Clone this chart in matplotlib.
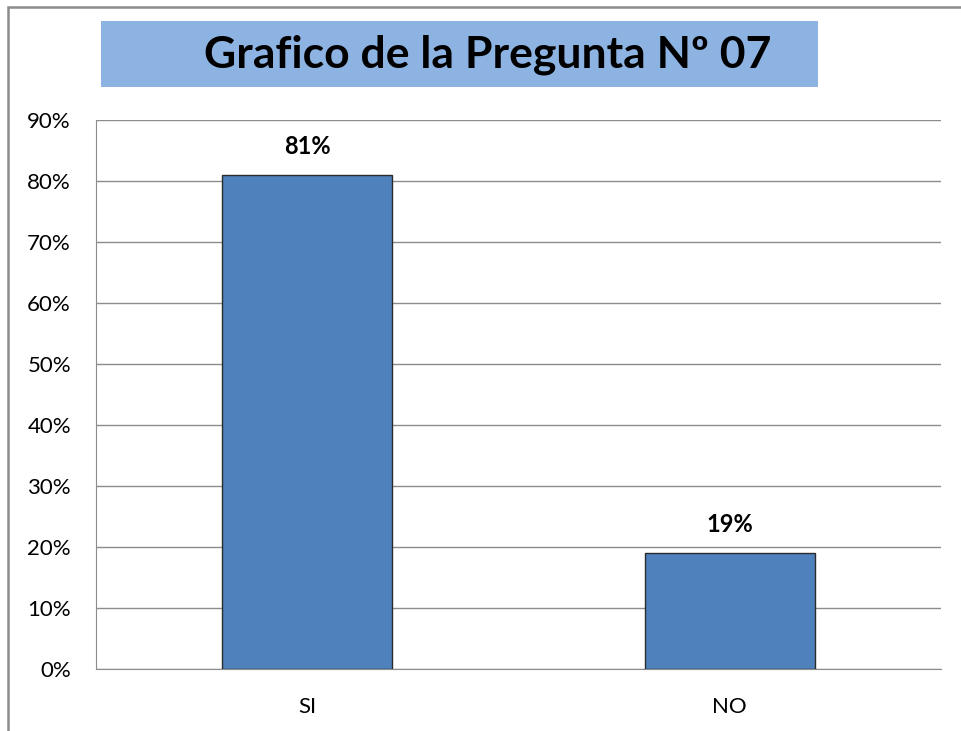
import matplotlib.pyplot as plt
from matplotlib.patches import Rectangle
from matplotlib.ticker import PercentFormatter

# Data
categorias = ["SI", "NO"]
porcentajes = [0.81, 0.19]
etiquetas = ["81%", "19%"]
titulo = "Grafico de la Pregunta Nº 07"

plt.rcParams['font.family'] = ['Lato', 'DejaVu Sans']

W, H = 962, 731
fig = plt.figure(figsize=(W / 100, H / 100), dpi=100)

# outer chart border (only left and top visible in the crop)
fig.patches.append(Rectangle((8 / W, -0.1), 1.2, 1 - 7 / H + 0.1,
                             transform=fig.transFigure, fill=False,
                             edgecolor='#8c8c8c', linewidth=1.8))

ax = fig.add_axes([96 / W, 62 / H, 845 / W, 549 / H])
x = range(len(categorias))
ax.bar(x, porcentajes, width=0.402, color='#4f81bd', edgecolor='#2b2b2b',
       linewidth=1.0, zorder=3)

for xi, v, lab in zip(x, porcentajes, etiquetas):
    ax.annotate(lab, (xi, v), xytext=(0, 12), textcoords='offset points',
                ha='center', va='bottom', fontsize=17, fontweight='bold')

ax.set_xlim(-0.5, 1.5)
ax.set_ylim(0, 0.9)
ax.set_yticks([i / 10 for i in range(10)])
ax.yaxis.set_major_formatter(PercentFormatter(1.0, decimals=0))
ax.set_xticks(list(x))
ax.set_xticklabels(categorias)
ax.tick_params(axis='both', length=0, labelsize=16, colors='#000000')
ax.tick_params(axis='y', pad=18)
ax.tick_params(axis='x', pad=20)
ax.grid(axis='y', color='#8c8c8c', linewidth=1.0, zorder=0)
for s in ['top', 'right']:
    ax.spines[s].set_visible(False)
ax.spines['left'].set_color('#8c8c8c')
ax.spines['bottom'].set_color('#8c8c8c')

# title box
fig.patches.append(Rectangle((101 / W, 1 - 87 / H), 717 / W, 66 / H,
                             transform=fig.transFigure, facecolor='#8db3e2',
                             edgecolor='none'))
fig.text(488 / W, 1 - 55 / H, titulo, ha='center', va='center',
         fontsize=32, fontweight='bold')

fig.savefig('out.png', dpi=100)
